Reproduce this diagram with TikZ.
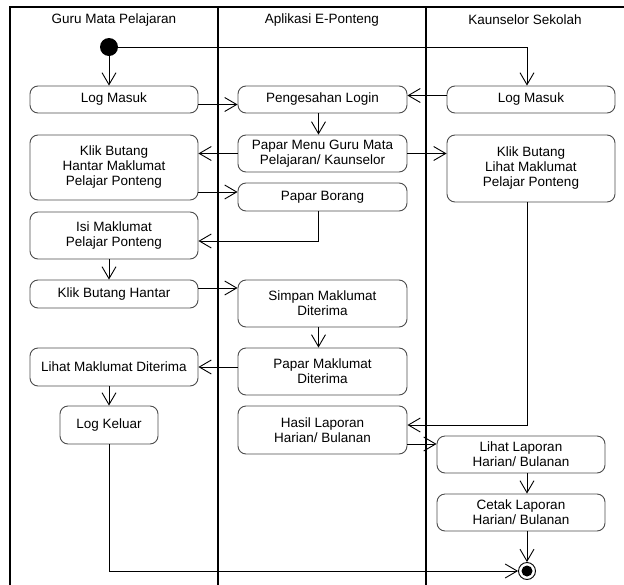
\documentclass[tikz,border=0pt]{standalone}
\usepackage{fontspec}
\setmainfont{Liberation Sans}
\usetikzlibrary{arrows.meta}
\tikzstyle{every node}=[font=\fontsize{13.5}{15}\selectfont, inner sep=2pt]

\begin{document}
\begin{tikzpicture}[x=1pt, y=-1pt,
    activity/.style={%
        draw=black!70, line width=0.9pt, rounded corners=8pt,
        align=center, minimum width=168pt},
    lane/.style={line width=1.6pt},
    flow/.style={->, draw=black, line width=0.9pt},
    startnode/.style={circle, fill=black, minimum size=18pt, inner sep=0pt},
    endnode/.style={circle, draw=black, line width=0.9pt, fill=white,
        minimum size=17pt, inner sep=0pt},
    >={Straight Barb[length=12pt,width=14pt]},
]
\useasboundingbox (0,0) rectangle (624,584);
\clip (0,0) rectangle (624,584);

    % Swimlanes
    \draw[line width=1.2pt] (10,600) -- (10,7) -- (640,7);
    \draw[lane] (218,7) -- (218,600);
    \draw[lane] (426,7) -- (426,600);
    \node (hGuru) at (114,20) {Guru Mata Pelajaran};
    \node (hApp) at (322,20) {Aplikasi E-Ponteng};
    \node (hKau) at (525,20) {Kaunselor Sekolah};

    % Guru Mata Pelajaran
    \node[startnode] (startNode) at (109,47) {};
    \node[activity, minimum height=27pt] (guruLogin) at (114,99.5) {Log Masuk};
    \node[activity, minimum height=65pt] (guruKlik) at (114,167.5) {Klik Butang\\Hantar Maklumat\\Pelajar Ponteng};
    \node[activity, minimum height=47pt] (guruIsi) at (114,235.5) {Isi Maklumat\\Pelajar Ponteng};
    \node[activity, minimum height=28pt] (guruHantar) at (114,294) {Klik Butang Hantar};
    \node[activity, minimum height=38pt] (guruLihat) at (114,367) {Lihat Maklumat Diterima};
    \node[activity, minimum height=38pt, minimum width=98pt] (guruLogout) at (109,425) {Log Keluar};
    %
    % Aplikasi E-Ponteng
    \node[activity, minimum height=27pt, minimum width=169pt] (appAuth) at (322.5,99.5) {Pengesahan Login};
    \node[activity, minimum height=37pt, minimum width=169pt] (appMenu) at (322.5,153.5) {Papar Menu Guru Mata\\Pelajaran/ Kaunselor};
    \node[activity, minimum height=28pt, minimum width=169pt] (appBorang) at (322.5,197) {Papar Borang};
    \node[activity, minimum height=47pt, minimum width=169pt] (appSimpan) at (322.5,303.5) {Simpan Maklumat\\Diterima};
    \node[activity, minimum height=47pt, minimum width=169pt] (appPapar) at (322.5,371.5) {Papar Maklumat\\Diterima};
    \node[activity, minimum height=48pt, minimum width=169pt] (appHasil) at (322.5,430) {Hasil Laporan\\Harian/ Bulanan};
    %
    % Kaunselor Sekolah
    \node[activity, minimum height=27pt] (kauLogin) at (531,99.5) {Log Masuk};
    \node[activity, minimum height=67pt] (kauKlik) at (531,168.5) {Klik Butang\\Lihat Maklumat\\Pelajar Ponteng};
    \node[activity, minimum height=37pt] (kauLihat) at (521,454.5) {Lihat Laporan\\Harian/ Bulanan};
    \node[activity, minimum height=37pt] (kauCetak) at (521,512.5) {Cetak Laporan\\Harian/ Bulanan};
    \node[endnode] (endNode) at (527,571) {};
    \fill (endNode.center) circle (5.5pt);

    % Flows
    \draw[flow] (startNode.south) -- (guruLogin.north -| startNode);
    \draw[flow] (startNode.east) -| (kauLogin.north -| endNode);
    \draw[flow] ([yshift=-5pt]guruLogin.east) -- ([yshift=-5pt]appAuth.west);
    \draw[flow] ([yshift=4pt]kauLogin.west) -- ([yshift=4pt]appAuth.east);
    \draw[flow] ([xshift=-4pt]appAuth.south) -- ([xshift=-4pt]appMenu.north);
    \draw[flow] (appMenu.west) -- (appMenu.west -| guruKlik.east);
    \draw[flow] (appMenu.east) -- (appMenu.east -| kauKlik.west);
    \draw[flow] ([yshift=5pt]appBorang.west -| guruKlik.east) -- ([yshift=5pt]appBorang.west);
    \draw[flow] ([xshift=-4pt]appBorang.south) |- ([yshift=-5.5pt]guruIsi.east);
    \draw[flow] (guruIsi.south -| startNode) -- (guruHantar.north -| startNode);
    \draw[flow] ([yshift=6pt]guruHantar.east) -- ([yshift=6pt]guruHantar.east -| appSimpan.west);
    \draw[flow] ([xshift=-4pt]appSimpan.south) -- ([xshift=-4pt]appPapar.north);
    \draw[flow] (guruLihat.east -| appPapar.west) -- (guruLihat.east);
    \draw[flow] (guruLihat.south -| guruLogout) -- (guruLogout.north);
    \draw[flow] (kauKlik.south -| endNode) |- ([yshift=5pt]appHasil.east);
    \draw[flow] ([yshift=-14pt]appHasil.east) -- ([yshift=-14pt]appHasil.east -| kauLihat.west);
    \draw[flow] (kauLihat.south -| endNode) -- (kauCetak.north -| endNode);
    \draw[flow] (kauCetak.south -| endNode) -- (endNode.north);
    \draw[flow] (guruLogout.south) |- (endNode.west);
\end{tikzpicture}
\end{document}
